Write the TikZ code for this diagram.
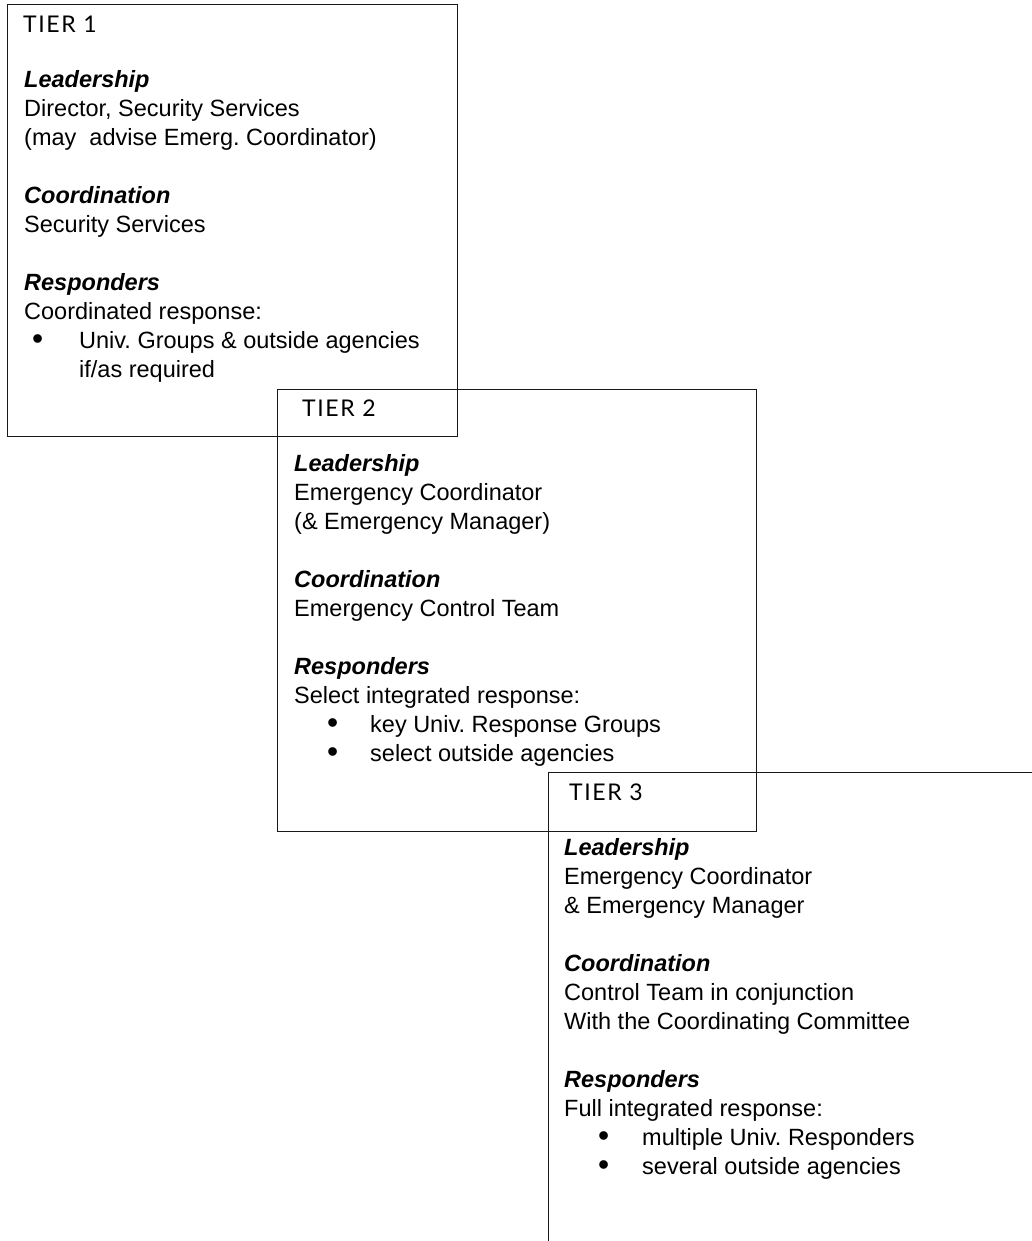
\documentclass[tikz,border=0pt]{standalone}
\usepackage{fontspec}
\setmainfont{Liberation Sans}
\newfontfamily\tierfont[LetterSpace=7]{Lato}
% bullet line: indent, bullet field width, item text
\newcommand\bulletline[3]{\hspace*{#1}\makebox[#2][l]{\raisebox{-0.06em}{\scalebox{1.35}{\textbullet}}}#3}
\newcommand\headword[1]{\textbf{\textit{#1}}}
\begin{document}
\frenchspacing
\begin{tikzpicture}[x=1pt,y=-1pt,
  tierbox/.style={draw=black!90, line width=1.1pt, inner sep=0pt, anchor=north west},
  tierlabel/.style={anchor=base west, inner sep=0pt, font=\tierfont\fontsize{23}{26}\selectfont},
  tiertext/.style={anchor=north west, inner sep=0pt, align=left,
    font=\fontsize{23.5}{29}\selectfont\frenchspacing},
]
\path[use as bounding box, clip] (0,0) rectangle (1032,1241);

% the three overlapping tier frames
\node[tierbox, minimum width=450pt, minimum height=432pt] (box1) at (7,4) {};
\node[tierbox, minimum width=479pt, minimum height=442pt] (box2) at (277,389) {};
\node[tierbox, minimum width=600pt, minimum height=600pt] (box3) at (548,772) {};

% tier captions
\node[tierlabel] (cap1) at (23,33) {TIER 1};
\node[tierlabel] (cap2) at (302,416) {TIER 2};
\node[tierlabel] (cap3) at (569,800) {TIER 3};

% tier 1 contents
\node[tiertext] (text1) at (24,67) {%
\rule{0pt}{20pt}\headword{Leadership}\\
Director, Security Services\\
(may\ \ advise Emerg. Coordinator)\\[29pt]
\headword{Coordination}\\
Security Services\\[29pt]
\headword{Responders}\\
Coordinated response:\\
\bulletline{8pt}{47pt}{Univ. Groups \& outside agencies}\\
\hspace*{55pt}if/as required};

% tier 2 contents
\node[tiertext] (text2) at (294,451) {%
\rule{0pt}{20pt}\headword{Leadership}\\
Emergency Coordinator\\
(\& Emergency Manager)\\[29pt]
\headword{Coordination}\\
Emergency Control Team\\[29pt]
\headword{Responders}\\
Select integrated response:\\
\bulletline{33pt}{43pt}{key Univ. Response Groups}\\
\bulletline{33pt}{43pt}{select outside agencies}};

% tier 3 contents
\node[tiertext] (text3) at (564,835) {%
\rule{0pt}{20pt}\headword{Leadership}\\
Emergency Coordinator\\
\& Emergency Manager\\[29pt]
\headword{Coordination}\\
Control Team in conjunction\\
With the Coordinating Committee\\[29pt]
\headword{Responders}\\
Full integrated response:\\
\bulletline{34pt}{44pt}{multiple Univ. Responders}\\
\bulletline{34pt}{44pt}{several outside agencies}};
\end{tikzpicture}
\end{document}
